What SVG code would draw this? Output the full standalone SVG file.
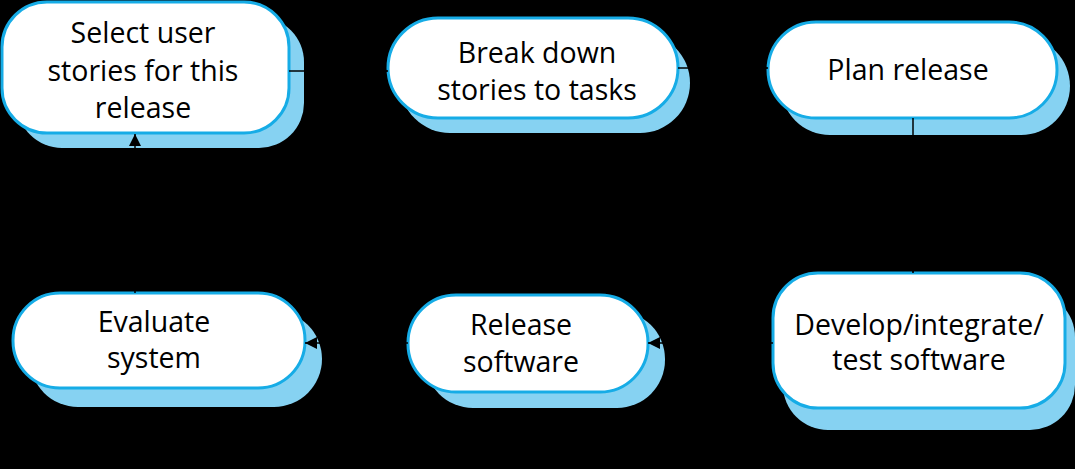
<svg xmlns="http://www.w3.org/2000/svg" width="1075" height="469" viewBox="0 0 1075 469">
<style>
.sh{fill:#86d2f2}
.bx{fill:#ffffff;stroke:#16ace6;stroke-width:3}
.t{font-family:"Open Sans","Noto Sans",sans-serif;font-size:28.5px;fill:#000;text-anchor:middle}
.c{stroke:#000;stroke-width:1.5;fill:none;marker-end:url(#ah)}
</style>
<defs>
<marker id="ah" viewBox="0 0 10 10" refX="10" refY="5" markerWidth="12" markerHeight="12" markerUnits="userSpaceOnUse" orient="auto">
<path d="M0,0 L10,5 L0,10 z" fill="#000"/>
</marker>
</defs>
<rect x="0" y="0" width="1075" height="469" fill="#000"/>
<g id="n1">
<rect class="sh" x="17" y="17" width="287" height="131" rx="45"/>
<rect class="bx" x="2" y="2" width="287" height="131" rx="45"/>
<text class="t" x="143" y="43">Select user</text>
<text class="t" x="143" y="81">stories for this</text>
<text class="t" x="143" y="118">release</text>
</g>
<g id="n2">
<rect class="sh" x="400" y="33" width="290" height="100" rx="50"/>
<rect class="bx" x="388" y="18" width="290" height="100" rx="50"/>
<text class="t" x="537" y="63">Break down</text>
<text class="t" x="537" y="100">stories to tasks</text>
</g>
<g id="n3">
<rect class="sh" x="781" y="37" width="289" height="98" rx="49"/>
<rect class="bx" x="768" y="22" width="289" height="96" rx="48"/>
<text class="t" x="908" y="80">Plan release</text>
</g>
<g id="n4">
<rect class="sh" x="30" y="311" width="292" height="96" rx="48"/>
<rect class="bx" x="13" y="293" width="292" height="95" rx="47"/>
<text class="t" x="154" y="332">Evaluate</text>
<text class="t" x="154" y="368">system</text>
</g>
<g id="n5">
<rect class="sh" x="425" y="311" width="240" height="97" rx="48"/>
<rect class="bx" x="408" y="295" width="240" height="97" rx="48"/>
<text class="t" x="521" y="335">Release</text>
<text class="t" x="521" y="372">software</text>
</g>
<g id="n6">
<rect class="sh" x="783" y="292" width="292" height="138" rx="45"/>
<rect class="bx" x="773" y="273" width="292" height="135" rx="45"/>
<text class="t" x="919" y="335">Develop/integrate/</text>
<text class="t" x="919" y="370">test software</text>
</g>
<g id="connectors">
<path class="c" d="M289,71 L388,71"/>
<path class="c" d="M678,68 L768,68"/>
<path class="c" d="M913,118 L913,273"/>
<path class="c" d="M773,343 L648,343"/>
<path class="c" d="M408,343 L305,343"/>
<path class="c" d="M135,293 L135,134"/>
</g>
</svg>
